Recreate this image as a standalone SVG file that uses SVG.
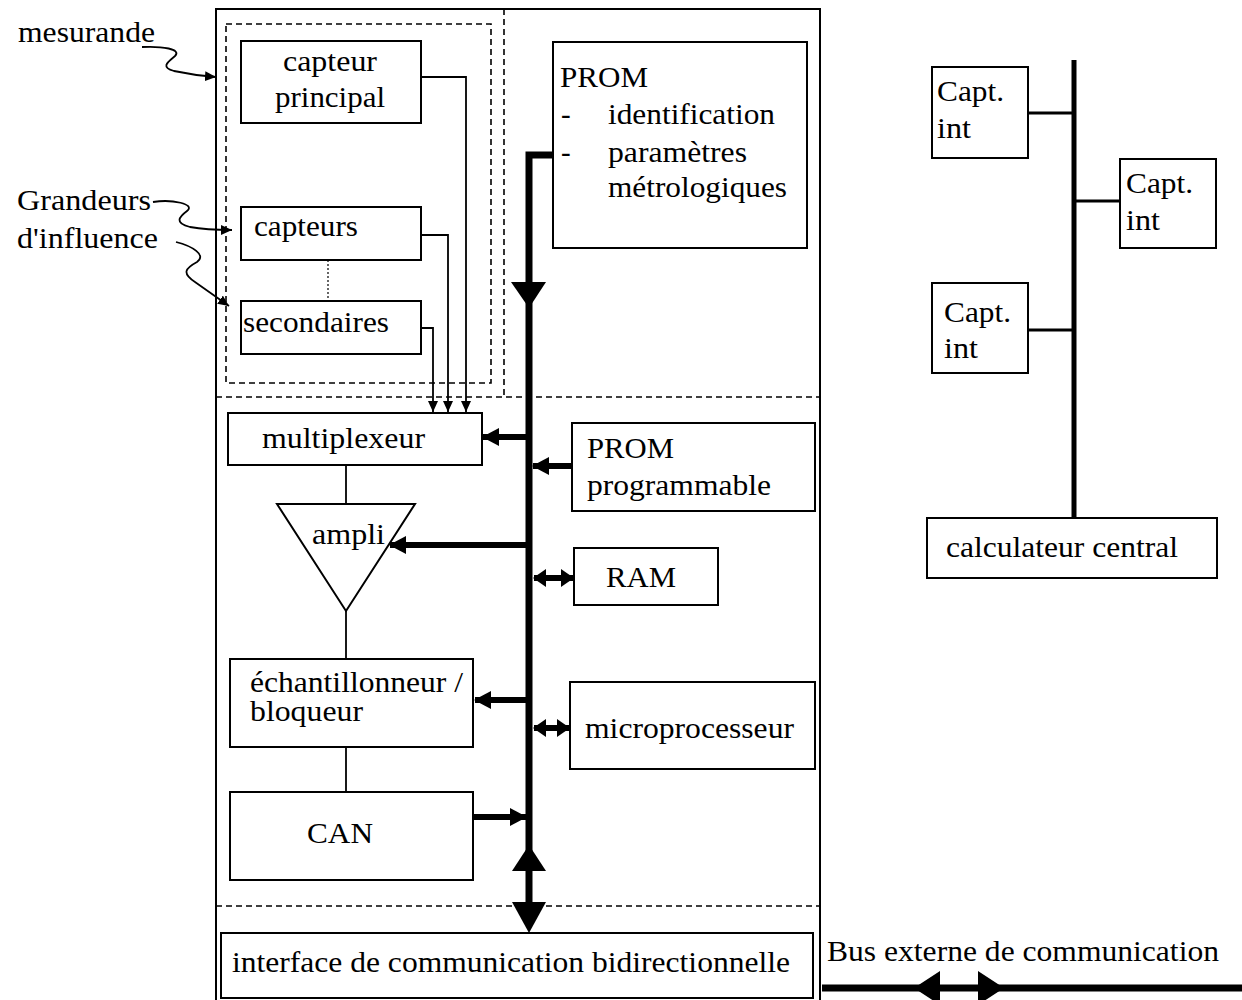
<svg xmlns="http://www.w3.org/2000/svg" width="1242" height="1000" viewBox="0 0 1242 1000">
<style>
text{font-family:"Liberation Serif","Times New Roman",serif;font-size:29px;fill:#000}
.box{fill:#fff;stroke:#000;stroke-width:2}
.frame{fill:none;stroke:#000;stroke-width:2}
.dash{fill:none;stroke:#000;stroke-width:1.6;stroke-dasharray:6,4}
.thin{fill:none;stroke:#000;stroke-width:1.8}
.link{fill:none;stroke:#000;stroke-width:3}
.thick{fill:none;stroke:#000;stroke-width:6}
.bus{fill:none;stroke:#000;stroke-width:7}
</style>
<defs>
<marker id="sm" markerUnits="userSpaceOnUse" markerWidth="11" markerHeight="10" refX="11" refY="5" orient="auto"><path d="M0,0 L11,5 L0,10 z" fill="#000"/></marker>
<marker id="big" markerUnits="userSpaceOnUse" markerWidth="17" markerHeight="18" refX="16" refY="9" orient="auto-start-reverse"><path d="M0,0 L17,9 L0,18 z" fill="#000"/></marker>
<marker id="dbl" markerUnits="userSpaceOnUse" markerWidth="13" markerHeight="18" refX="12" refY="9" orient="auto-start-reverse"><path d="M0,0 L13,9 L0,18 z" fill="#000"/></marker>
</defs>

<g id="frames">
<path class="frame" d="M216,1000 V9 H820 V1000"/>
<line class="dash" x1="504" y1="9" x2="504" y2="397"/>
<line class="dash" x1="216" y1="397" x2="820" y2="397"/>
<line class="dash" x1="216" y1="906" x2="820" y2="906"/>
<rect class="dash" x="226" y="24" width="265" height="359"/>
</g>

<g id="labels">
<text x="18" y="42" textLength="137" lengthAdjust="spacingAndGlyphs">mesurande</text>
<text x="17" y="210" textLength="134" lengthAdjust="spacingAndGlyphs">Grandeurs</text>
<text x="17" y="248" textLength="141" lengthAdjust="spacingAndGlyphs">d'influence</text>
<text x="827" y="961" textLength="392" lengthAdjust="spacingAndGlyphs">Bus externe de communication</text>
</g>

<g id="capteur-principal">
<rect class="box" x="241" y="41" width="180" height="82"/>
<text x="283" y="71" textLength="94" lengthAdjust="spacingAndGlyphs">capteur</text>
<text x="275" y="107" textLength="110" lengthAdjust="spacingAndGlyphs">principal</text>
</g>
<g id="capteurs">
<rect class="box" x="241" y="207" width="180" height="53"/>
<text x="254" y="236" textLength="104" lengthAdjust="spacingAndGlyphs">capteurs</text>
</g>
<g id="secondaires">
<rect class="box" x="241" y="301" width="180" height="53"/>
<text x="243" y="332" textLength="146" lengthAdjust="spacingAndGlyphs">secondaires</text>
</g>
<g id="prom">
<rect class="box" x="553" y="42" width="254" height="206"/>
<text x="560" y="87" textLength="88" lengthAdjust="spacingAndGlyphs">PROM</text>
<text x="561" y="124">-</text>
<text x="608" y="124" textLength="167" lengthAdjust="spacingAndGlyphs">identification</text>
<text x="561" y="162">-</text>
<text x="608" y="162" textLength="139" lengthAdjust="spacingAndGlyphs">paramètres</text>
<text x="608" y="197" textLength="179" lengthAdjust="spacingAndGlyphs">métrologiques</text>
</g>
<g id="multiplexeur">
<rect class="box" x="228" y="413" width="254" height="52"/>
<text x="262" y="448" textLength="163" lengthAdjust="spacingAndGlyphs">multiplexeur</text>
</g>
<g id="prom-programmable">
<rect class="box" x="572" y="423" width="243" height="88"/>
<text x="587" y="458" textLength="87" lengthAdjust="spacingAndGlyphs">PROM</text>
<text x="587" y="495" textLength="184" lengthAdjust="spacingAndGlyphs">programmable</text>
</g>
<g id="ampli">
<polygon class="box" points="277,504 415,504 346,611"/>
<text x="312" y="544" textLength="73" lengthAdjust="spacingAndGlyphs">ampli</text>
</g>
<g id="ram">
<rect class="box" x="574" y="548" width="144" height="57"/>
<text x="606" y="587" textLength="70" lengthAdjust="spacingAndGlyphs">RAM</text>
</g>
<g id="echantillonneur">
<rect class="box" x="230" y="659" width="243" height="88"/>
<text x="250" y="692" textLength="213" lengthAdjust="spacingAndGlyphs">échantillonneur /</text>
<text x="250" y="721" textLength="113" lengthAdjust="spacingAndGlyphs">bloqueur</text>
</g>
<g id="microprocesseur">
<rect class="box" x="570" y="682" width="245" height="87"/>
<text x="585" y="738" textLength="209" lengthAdjust="spacingAndGlyphs">microprocesseur</text>
</g>
<g id="can">
<rect class="box" x="230" y="792" width="243" height="88"/>
<text x="307" y="843" textLength="66" lengthAdjust="spacingAndGlyphs">CAN</text>
</g>
<g id="interface">
<rect class="box" x="221" y="933" width="592" height="65"/>
<text x="232" y="972" textLength="558" lengthAdjust="spacingAndGlyphs">interface de communication bidirectionnelle</text>
</g>

<g id="capt-int-1">
<rect class="box" x="932" y="67" width="96" height="91"/>
<text x="937" y="101" textLength="67" lengthAdjust="spacingAndGlyphs">Capt.</text>
<text x="937" y="138" textLength="34" lengthAdjust="spacingAndGlyphs">int</text>
</g>
<g id="capt-int-2">
<rect class="box" x="1120" y="159" width="96" height="89"/>
<text x="1126" y="193" textLength="67" lengthAdjust="spacingAndGlyphs">Capt.</text>
<text x="1126" y="230" textLength="34" lengthAdjust="spacingAndGlyphs">int</text>
</g>
<g id="capt-int-3">
<rect class="box" x="932" y="283" width="96" height="90"/>
<text x="944" y="322" textLength="67" lengthAdjust="spacingAndGlyphs">Capt.</text>
<text x="944" y="358" textLength="34" lengthAdjust="spacingAndGlyphs">int</text>
</g>
<g id="calculateur-central">
<rect class="box" x="927" y="518" width="290" height="60"/>
<text x="946" y="557" textLength="232" lengthAdjust="spacingAndGlyphs">calculateur central</text>
</g>

<g id="connectors">
<path class="thin" d="M142,47 C162,46 182,49 175,56 C168,62 160,67 174,71 C188,74 202,76 216,77" marker-end="url(#sm)"/>
<path class="thin" d="M153,202 C172,199 196,204 187,211 C179,217 174,223 190,227 C206,230 220,230 232,230" marker-end="url(#sm)"/>
<path class="thin" d="M176,242 C192,246 207,255 197,262 C186,268 181,273 195,282 C209,292 219,299 229,306" marker-end="url(#sm)"/>
<path class="thin" d="M421,77 H466 V412" marker-end="url(#sm)"/>
<path class="thin" d="M421,235 H448 V412" marker-end="url(#sm)"/>
<path class="thin" d="M421,328 H433 V412" marker-end="url(#sm)"/>
<line x1="328" y1="260" x2="328" y2="301" stroke="#000" stroke-width="1.2" stroke-dasharray="2,2"/>
<line class="thin" x1="346" y1="465" x2="346" y2="504"/>
<line class="thin" x1="346" y1="611" x2="346" y2="659"/>
<line class="thin" x1="346" y1="747" x2="346" y2="792"/>
<path class="bus" d="M553,155 H529 V906"/>
<polygon points="511,282 546,282 529,308" fill="#000"/>
<polygon points="529,845 512,871 546,871" fill="#000"/>
<polygon points="512,902 546,902 529,933" fill="#000"/>
<line class="thick" x1="526" y1="437" x2="483" y2="437" marker-end="url(#big)"/>
<line class="thick" x1="572" y1="466" x2="533" y2="466" marker-end="url(#big)"/>
<line class="thick" x1="526" y1="545" x2="390" y2="545" marker-end="url(#big)"/>
<line class="thick" x1="534" y1="578" x2="573" y2="578" marker-start="url(#dbl)" marker-end="url(#dbl)"/>
<line class="thick" x1="526" y1="700" x2="475" y2="700" marker-end="url(#big)"/>
<line class="thick" x1="534" y1="728" x2="569" y2="728" marker-start="url(#dbl)" marker-end="url(#dbl)"/>
<line class="thick" x1="474" y1="817" x2="526" y2="817" marker-end="url(#big)"/>
<line class="bus" x1="822" y1="988" x2="1242" y2="988"/>
<polygon points="914,988 940,971 940,1005" fill="#000"/>
<polygon points="1004,988 978,971 978,1005" fill="#000"/>
<line x1="1074" y1="60" x2="1074" y2="518" stroke="#000" stroke-width="5"/>
<line class="link" x1="1028" y1="113" x2="1074" y2="113"/>
<line class="link" x1="1074" y1="201" x2="1120" y2="201"/>
<line class="link" x1="1028" y1="330" x2="1074" y2="330"/>
</g>
</svg>
